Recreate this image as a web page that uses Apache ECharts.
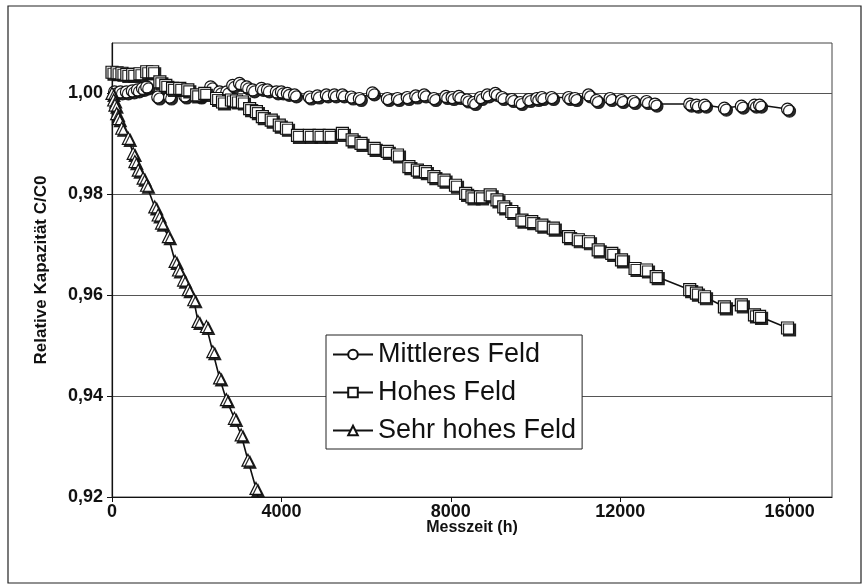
<!DOCTYPE html>
<html>
<head>
<meta charset="utf-8">
<script src="https://cdn.jsdelivr.net/npm/echarts@6/dist/echarts.min.js"></script>
<style>
	html, body { margin: 0; padding: 0; background: #fff; }
	#main { width: 868px; height: 587px; }
</style>
</head>
<body>
<div id="main"></div>
<script>
// Messzeit (h), Relative Kapazitaet C/C0
var mittleresFeld = [
	[60, 1.0003], [200, 1.0003], [340, 1.0003], [480, 1.0005], [600, 1.0007], [720, 1.0010], [820, 1.0013],
	[1080, 0.9993], [1360, 0.9993], [1720, 0.9995], [2070, 0.9995], [2330, 1.0013], [2540, 1.0003], [2710, 1.0003],
	[2850, 1.0016], [3010, 1.0020], [3180, 1.0013], [3320, 1.0007], [3530, 1.0010], [3670, 1.0007], [3880, 1.0003],
	[4000, 1.0003], [4140, 1.0000], [4310, 0.9997], [4660, 0.9993], [4850, 0.9995], [5060, 0.9997], [5250, 0.9997],
	[5440, 0.9997], [5650, 0.9993], [5840, 0.9990], [6150, 1.0001], [6500, 0.9990], [6740, 0.9990], [6970, 0.9992],
	[7170, 0.9995], [7370, 0.9997], [7600, 0.9990], [7880, 0.9994], [8030, 0.9992], [8190, 0.9994], [8380, 0.9987],
	[8540, 0.9982], [8700, 0.9992], [8860, 0.9997], [9050, 1.0000], [9210, 0.9992], [9440, 0.9988], [9640, 0.9982],
	[9840, 0.9988], [10030, 0.9990], [10150, 0.9992], [10380, 0.9992], [10780, 0.9992], [10930, 0.9990], [11250, 0.9997],
	[11440, 0.9986], [11760, 0.9990], [12030, 0.9986], [12310, 0.9984], [12620, 0.9984], [12820, 0.9979], [13640, 0.9979],
	[13800, 0.9977], [13990, 0.9977], [14460, 0.9971], [14860, 0.9975], [15170, 0.9977], [15290, 0.9977], [15950, 0.9969]
];
var hohesFeld = [
	[0, 1.0042], [120, 1.0041], [235, 1.0040], [350, 1.0038], [490, 1.0038], [660, 1.0039], [820, 1.0043], [960, 1.0043],
	[1130, 1.0023], [1270, 1.0016], [1430, 1.0010], [1600, 1.0010], [1790, 1.0007], [2000, 0.9997], [2190, 1.0000],
	[2470, 0.9990], [2610, 0.9983], [2820, 0.9987], [2940, 0.9985], [3080, 0.9983], [3250, 0.9970], [3410, 0.9964],
	[3550, 0.9954], [3760, 0.9947], [3950, 0.9937], [4120, 0.9931], [4380, 0.9917], [4660, 0.9917], [4890, 0.9917],
	[5130, 0.9917], [5440, 0.9921], [5670, 0.9908], [5880, 0.9901], [6190, 0.9891], [6500, 0.9885], [6740, 0.9878],
	[7010, 0.9855], [7210, 0.9848], [7400, 0.9845], [7600, 0.9835], [7840, 0.9828], [8110, 0.9818], [8350, 0.9802],
	[8500, 0.9795], [8700, 0.9795], [8930, 0.9799], [9090, 0.9789], [9250, 0.9775], [9440, 0.9766], [9680, 0.9749],
	[9910, 0.9746], [10150, 0.9739], [10420, 0.9733], [10780, 0.9716], [11010, 0.9710], [11250, 0.9706], [11480, 0.9690],
	[11800, 0.9683], [12030, 0.9670], [12350, 0.9653], [12620, 0.9650], [12850, 0.9637], [13640, 0.9611], [13800, 0.9604],
	[13990, 0.9597], [14460, 0.9577], [14860, 0.9581], [15170, 0.9561], [15290, 0.9558], [15950, 0.9535]
];
var sehrHohesFeld = [
	[0, 1.0000], [40, 0.9987], [70, 0.9977], [110, 0.9960], [150, 0.9950], [230, 0.9931], [385, 0.9911], [500, 0.9881],
	[540, 0.9865], [620, 0.9848], [735, 0.9832], [815, 0.9818], [1010, 0.9775], [1090, 0.9759], [1170, 0.9743],
	[1330, 0.9716], [1490, 0.9667], [1570, 0.9650], [1690, 0.9630], [1800, 0.9611], [1930, 0.9591], [2030, 0.9548],
	[2230, 0.9538], [2380, 0.9488], [2540, 0.9436], [2700, 0.9393], [2890, 0.9356], [3050, 0.9323], [3210, 0.9273],
	[3400, 0.9217], [3500, 0.9180]
];
var seriesNames = ['Mittleres Feld', 'Hohes Feld', 'Sehr hohes Feld'];
var xTicks = [0, 4000, 8000, 12000, 16000];
var yTicks = [0.92, 0.94, 0.96, 0.98, 1.00];

var _font = "'Liberation Sans', Arial, sans-serif";
var _markStyle = {
	color: '#fff',
	borderColor: '#111',
	borderWidth: 1.2,
	shadowColor: 'rgba(20,20,20,0.9)',
	shadowBlur: 0,
	shadowOffsetX: 2,
	shadowOffsetY: 2
};

function mkSeries(name, data, symbol, size) {
	return {
		name: name,
		type: 'line',
		data: data,
		symbol: symbol,
		symbolSize: size,
		showAllSymbol: true,
		clip: true,
		animation: false,
		lineStyle: { color: '#111', width: 1.6 },
		itemStyle: _markStyle
	};
}

var option = {
	animation: false,
	backgroundColor: '#fff',
	textStyle: { fontFamily: _font },
	graphic: [{
		type: 'rect',
		shape: { x: 8, y: 6, width: 853, height: 577 },
		style: { fill: 'none', stroke: '#222', lineWidth: 1.2 },
		silent: true
	}],
	grid: {
		show: true,
		left: 112,
		right: 36,
		top: 43,
		bottom: 90,
		borderColor: '#444',
		borderWidth: 1,
		backgroundColor: '#fff'
	},
	legend: {
		orient: 'vertical',
		left: 326,
		top: 335,
		padding: [6, 6, 5, 6],
		itemGap: 11,
		itemWidth: 40,
		itemHeight: 12,
		backgroundColor: '#fff',
		borderColor: '#222',
		borderWidth: 1,
		borderRadius: 0,
		textStyle: { fontSize: 27, color: '#111', fontFamily: _font },
		itemStyle: { shadowColor: 'transparent', shadowOffsetX: 0, shadowOffsetY: 0 },
		data: seriesNames
	},
	xAxis: {
		type: 'value',
		min: 0,
		max: 17000,
		interval: 4000,
		name: 'Messzeit (h)',
		nameLocation: 'middle',
		nameGap: 23,
		nameMoveOverlap: false,
		nameTextStyle: { fontSize: 16, fontWeight: 'bold', color: '#111' },
		axisLine: { lineStyle: { color: '#111', width: 1.2 } },
		axisTick: { show: true, length: 5, customValues: xTicks, lineStyle: { color: '#111' } },
		axisLabel: {
			customValues: xTicks,
			fontSize: 18,
			fontWeight: 'bold',
			color: '#111',
			margin: 6,
			formatter: function (v) { return String(Math.round(v)); }
		},
		splitLine: { show: false }
	},
	yAxis: {
		type: 'value',
		min: 0.92,
		max: 1.01,
		interval: 0.02,
		name: 'Relative Kapazität C/C0',
		nameLocation: 'middle',
		nameGap: 62,
		nameTextStyle: { fontSize: 17, fontWeight: 'bold', color: '#111' },
		axisLine: { show: true, lineStyle: { color: '#111', width: 1.2 } },
		axisTick: { show: true, length: 5, customValues: yTicks, lineStyle: { color: '#111' } },
		axisLabel: {
			customValues: yTicks,
			fontSize: 18,
			fontWeight: 'bold',
			color: '#111',
			margin: 9,
			formatter: function (v) { return v.toFixed(2).replace('.', ','); }
		},
		splitLine: { show: true, lineStyle: { color: '#555', width: 1 } }
	},
	series: [
		mkSeries(seriesNames[0], mittleresFeld, 'circle', 12),
		mkSeries(seriesNames[1], hohesFeld, 'rect', 12),
		mkSeries(seriesNames[2], sehrHohesFeld, 'triangle', 12)
	]
};

var myChart = echarts.init(document.getElementById('main'), null, { renderer: 'canvas' });
myChart.setOption(option);
</script>
</body>
</html>
